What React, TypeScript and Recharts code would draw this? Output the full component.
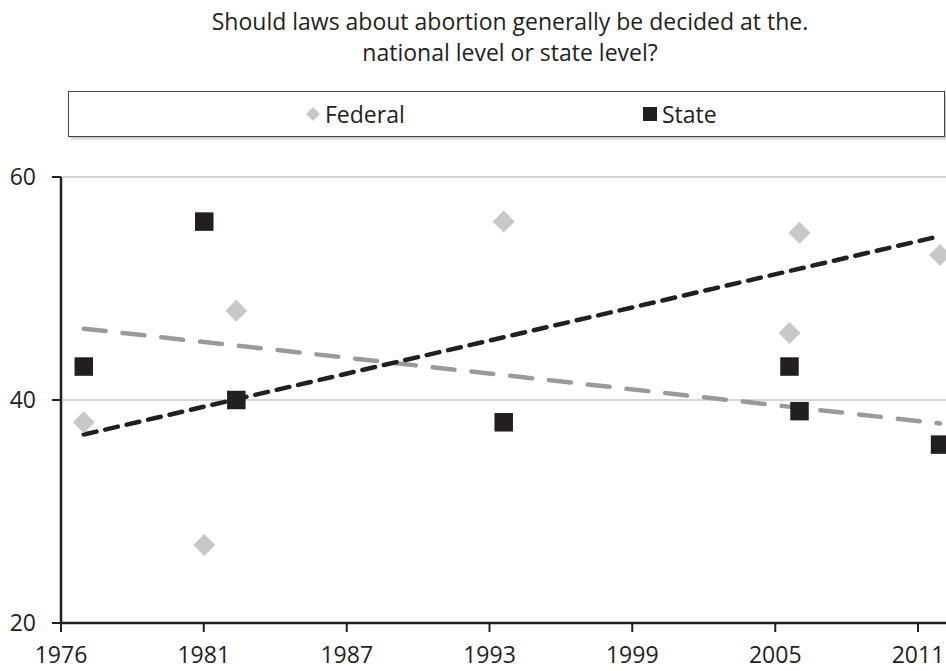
import React from "react";
import { ScatterChart, Scatter, XAxis, YAxis, CartesianGrid } from "recharts";

// Federal responses (year as decimal, percent)
const federalYears = [1976.93, 1981.85, 1983.16, 1994.08, 2005.75, 2006.16, 2011.9];
const federalValues = [38, 27, 48, 56, 46, 55, 53];
// State responses
const stateYears = [1976.93, 1981.85, 1983.16, 1994.08, 2005.75, 2006.16, 2011.9];
const stateValues = [43, 56, 40, 38, 43, 39, 36];
// Linear trend end points
const federalTrendYears = [1976.93, 2011.9];
const federalTrendValues = [46.4, 37.9];
const stateTrendYears = [1976.93, 2011.9];
const stateTrendValues = [36.9, 54.7];

const xTickValues = [1976, 1981.83, 1987.67, 1993.5, 1999.33, 2005.17, 2011];
const xTickLabels = ["1976", "1981", "1987", "1993", "1999", "2005", "2011"];
const yTicks = [20, 40, 60];

const titleLines = [
  "Should laws about abortion generally be decided at the.",
  "national level or state level?",
];

const zip = (xs: number[], ys: number[]) => xs.map((x, i) => ({ x, y: ys[i] }));
const federalData = zip(federalYears, federalValues);
const stateData = zip(stateYears, stateValues);
const federalTrend = zip(federalTrendYears, federalTrendValues);
const stateTrend = zip(stateTrendYears, stateTrendValues);

const FONT = "'Open Sans', sans-serif";
const INK = "#231f20";
const LIGHT = "#c8c8c8";
const TREND_GRAY = "#9a9a9a";

const Diamond = (props: any) => {
  const { cx, cy } = props;
  const r = 11;
  return (
    <polygon
      points={`${cx},${cy - r} ${cx + r},${cy} ${cx},${cy + r} ${cx - r},${cy}`}
      fill={LIGHT}
    />
  );
};

const Square = (props: any) => {
  const { cx, cy } = props;
  const s = 18.5;
  return <rect x={cx - s / 2} y={cy - s / 2} width={s} height={s} fill={INK} />;
};

const NoShape = () => null;

export default function App() {
  return (
    <div
      style={{
        position: "absolute",
        left: 0,
        top: 0,
        width: 946,
        height: 671,
        overflow: "hidden",
        background: "#fff",
        fontFamily: FONT,
      }}
    >
      <div
        style={{
          position: "absolute",
          left: 60,
          width: 900,
          top: 6,
          textAlign: "center",
          fontSize: 23,
          lineHeight: "31px",
          color: INK,
        }}
      >
        {titleLines.map((t, i) => (
          <div key={i}>{t}</div>
        ))}
      </div>
      <div
        style={{
          position: "absolute",
          left: 68,
          top: 91,
          width: 877,
          height: 46,
          border: "1px solid #444",
          boxSizing: "border-box",
          boxShadow: "2px 2px 3px rgba(0,0,0,0.25)",
          background: "#fff",
        }}
      >
        <div style={{ position: "absolute", left: 237, top: 15, width: 14, height: 14 }}>
          <svg width={14} height={14} style={{ display: "block" }}>
            <polygon points="7,0 14,7 7,14 0,7" fill={LIGHT} />
          </svg>
        </div>
        <div
          style={{ position: "absolute", left: 256, top: 7, fontSize: 23, lineHeight: "30px", color: INK }}
        >
          Federal
        </div>
        <div style={{ position: "absolute", left: 574, top: 15, width: 14, height: 14, background: INK }} />
        <div
          style={{ position: "absolute", left: 593, top: 7, fontSize: 23, lineHeight: "30px", color: INK }}
        >
          State
        </div>
      </div>
      <div style={{ position: "absolute", left: 0, top: 0 }}>
        <ScatterChart
          width={977}
          height={671}
          margin={{ top: 177, right: 10, bottom: 0, left: 0 }}
        >
          <CartesianGrid horizontal={true} vertical={false} stroke={LIGHT} strokeWidth={1.5} />
          <XAxis
            type="number"
            dataKey="x"
            domain={[1976, 2013]}
            ticks={xTickValues}
            tickFormatter={(v: number) => xTickLabels[xTickValues.indexOf(v)] ?? ""}
            allowDataOverflow={true}
            height={48}
            tickSize={9}
            tickMargin={15}
            axisLine={{ stroke: INK, strokeWidth: 2.5 }}
            tickLine={{ stroke: INK, strokeWidth: 2 }}
            tick={{ fill: INK, fontSize: 23, fontFamily: FONT }}
            interval={0}
          />
          <YAxis
            type="number"
            dataKey="y"
            domain={[20, 60]}
            ticks={yTicks}
            width={61}
            tickSize={9}
            tickMargin={16}
            axisLine={{ stroke: INK, strokeWidth: 2.5 }}
            tickLine={{ stroke: INK, strokeWidth: 2 }}
            tick={{ fill: INK, fontSize: 23, fontFamily: FONT }}
            interval={0}
          />
          <Scatter
            data={federalTrend}
            shape={NoShape}
            line={{ stroke: TREND_GRAY, strokeWidth: 4.5, strokeDasharray: "22 17", strokeLinecap: "round" }}
            isAnimationActive={false}
          />
          <Scatter
            data={stateTrend}
            shape={NoShape}
            line={{ stroke: INK, strokeWidth: 4.5, strokeDasharray: "13 9", strokeLinecap: "round" }}
            isAnimationActive={false}
          />
          <Scatter data={federalData} shape={Diamond} isAnimationActive={false} />
          <Scatter data={stateData} shape={Square} isAnimationActive={false} />
        </ScatterChart>
      </div>
    </div>
  );
}
